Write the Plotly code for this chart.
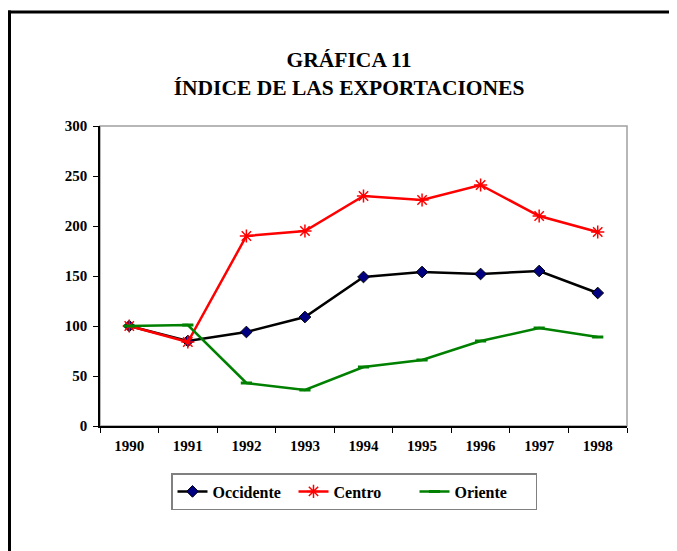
import plotly.graph_objects as go

years = ["1990", "1991", "1992", "1993", "1994", "1995", "1996", "1997", "1998"]
occidente = [100, 85, 94, 109, 149, 154, 152, 155, 133]
centro = [100, 84, 190, 195, 230, 226, 241, 210, 194]
oriente = [100, 101, 43, 36, 59, 66, 85, 98, 89]
y_ticks = [0, 50, 100, 150, 200, 250, 300]

# page is rendered with an 8px body offset
OFF = 8
W, H = 677, 551
# desired plot area in page pixels: x 100..627, y 126..426
ML, MT = 100 - OFF, 126 - OFF
PW, PH = 527, 300
MR = W - ML - PW
MB = H - MT - PH

def px_x(p):  # page pixel -> paper x
    return (p - OFF - ML) / PW

def px_y(p):  # page pixel -> paper y
    return (MT + PH - (p - OFF)) / PH

FONT = "Liberation Serif, Times New Roman, serif"

fig = go.Figure()
fig.add_trace(go.Scatter(
    x=years, y=occidente, name="Occidente", mode="lines+markers",
    line=dict(color="#000000", width=2.5),
    marker=dict(symbol="diamond", size=9, color="#000080",
                line=dict(color="#000000", width=1)),
))
fig.add_trace(go.Scatter(
    x=years, y=centro, name="Centro", mode="lines+markers",
    line=dict(color="#FF0000", width=2.5),
    marker=dict(symbol="asterisk-open", size=11, color="#FF0000",
                line=dict(color="#FF0000", width=1.5)),
))
fig.add_trace(go.Scatter(
    x=years, y=oriente, name="Oriente", mode="lines+markers",
    line=dict(color="#008000", width=2.5),
    marker=dict(symbol="line-ew-open", size=8, color="#008000",
                line=dict(color="#008000", width=3)),
))

shapes = [
    dict(type="rect", xref="paper", yref="paper", x0=0, x1=1, y0=0, y1=1,
         line=dict(color="#A0A0A0", width=1.5), layer="below"),
    dict(type="line", xref="paper", yref="paper",
         x0=px_x(8), x1=px_x(700), y0=px_y(12), y1=px_y(12),
         line=dict(color="#000000", width=3)),
    dict(type="line", xref="paper", yref="paper",
         x0=px_x(9.5), x1=px_x(9.5), y0=px_y(10.5), y1=px_y(580),
         line=dict(color="#000000", width=3)),
]

fig.update_layout(
    width=W, height=H,
    margin=dict(l=ML, r=MR, t=MT, b=MB),
    paper_bgcolor="white", plot_bgcolor="white",
    font=dict(family=FONT, color="#000000"),
    title=dict(
        text="<b>GRÁFICA 11</b><br><b>ÍNDICE DE LAS EXPORTACIONES</b>",
        x=px_x(349), xanchor="center", xref="paper",
        y=1 - (67 - OFF) / H, yanchor="middle", yref="container",
        font=dict(family=FONT, size=21.5, color="#000000"),
    ),
    showlegend=True,
    legend=dict(
        orientation="h", x=px_x(354), xanchor="center",
        y=px_y(473), yanchor="top",
        font=dict(family=FONT, size=16, color="#000000", weight="bold"),
        bordercolor="#808080", borderwidth=1.5,
        itemwidth=30,
        entrywidth=76, entrywidthmode="pixels",
    ),
    shapes=shapes,
)

fig.update_xaxes(
    type="category", range=[-0.5, 8.5],
    showline=True, linecolor="#000000", linewidth=1.5,
    ticks="outside", ticklen=5, tickcolor="#000000", tickwidth=1,
    tickson="boundaries", showgrid=False, zeroline=False,
    tickfont=dict(family=FONT, size=15, color="#000000", weight="bold"),
    ticklabelstandoff=5,
)
fig.update_yaxes(
    range=[0, 300], tickvals=y_ticks, ticktext=[str(v) for v in y_ticks],
    showline=True, linecolor="#000000", linewidth=1.5,
    ticks="outside", ticklen=5, tickcolor="#000000", tickwidth=1,
    showgrid=False, zeroline=False,
    tickfont=dict(family=FONT, size=15, color="#000000", weight="bold"),
    ticklabelstandoff=3,
)

fig.write_html("out.html")
